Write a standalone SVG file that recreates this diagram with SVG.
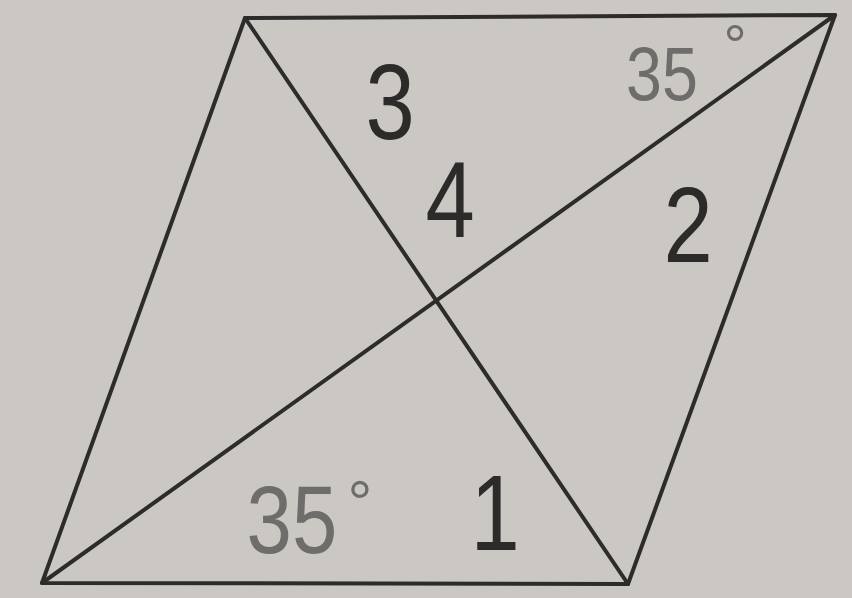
<svg xmlns="http://www.w3.org/2000/svg" width="852" height="598" viewBox="0 0 852 598">
<style>
.ln{stroke:#2e2c2b;stroke-width:4;fill:none;stroke-linecap:round;stroke-linejoin:round}
.n{font-family:"Liberation Sans",Arial,sans-serif;fill:#2c2b2a;text-anchor:middle}
.g{font-family:"Liberation Sans",Arial,sans-serif;fill:#6f6d6b;text-anchor:middle}
</style>
<rect width="852" height="598" fill="#cbc8c4"/>
<g id="shape">
<polygon class="ln" points="245,18 835,15 628,584 42,583"/>
<line class="ln" x1="245" y1="18" x2="628" y2="584"/>
<line class="ln" x1="835" y1="15" x2="42" y2="583"/>
</g>
<g id="labels">
<text class="n" font-size="108" transform="translate(390,139) scale(0.82,1)">3</text>
<text class="n" font-size="108" transform="translate(450,237) scale(0.82,1)">4</text>
<text class="n" font-size="108" transform="translate(688,262) scale(0.82,1)">2</text>
<text class="n" font-size="108" transform="translate(495,550) scale(0.82,1)">1</text>
<text class="g" font-size="76" transform="translate(662,100) scale(0.85,1)">35</text>
<text class="g" font-size="58" x="735" y="65">°</text>
<text class="g" font-size="96" transform="translate(292,553) scale(0.85,1)">35</text>
<text class="g" font-size="62" x="360" y="524">°</text>
</g>
</svg>
